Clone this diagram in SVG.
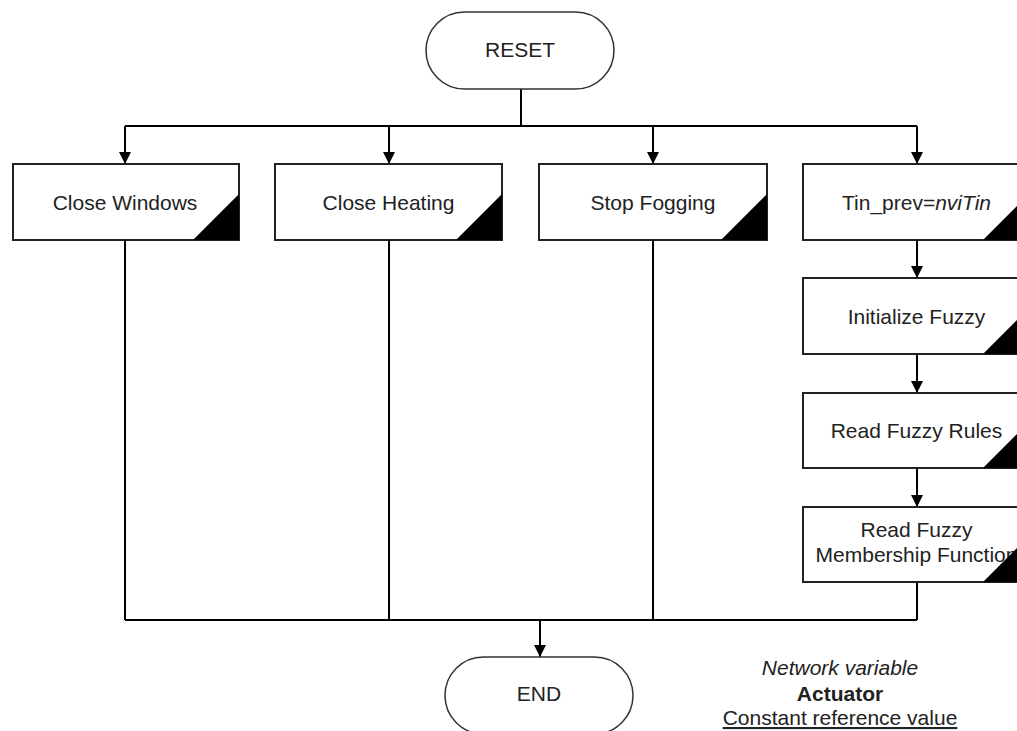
<svg xmlns="http://www.w3.org/2000/svg" width="1017" height="731" viewBox="0 0 1017 731">
<style>
.box{fill:#fff;stroke:#222;stroke-width:2}
.term{fill:#fff;stroke:#333;stroke-width:1.5}
.tri{fill:#000}
.t{font-family:"Liberation Sans",Arial,sans-serif;font-size:21px;fill:#222;text-anchor:middle}
.c{fill:none;stroke:#000;stroke-width:2}
</style>
<defs>
<marker id="ad" markerUnits="userSpaceOnUse" markerWidth="14" markerHeight="14" viewBox="0 0 14 14" refX="7" refY="13" orient="0">
<path d="M1,1 L13,1 L7,13 Z" fill="#000"/>
</marker>
</defs>
<rect width="1017" height="731" fill="#fff"/>
<g id="connectors">
<path class="c" d="M521,89 V126 M125,126 H917"/>
<path class="c" d="M125,126 V164" marker-end="url(#ad)"/>
<path class="c" d="M389,126 V164" marker-end="url(#ad)"/>
<path class="c" d="M653,126 V164" marker-end="url(#ad)"/>
<path class="c" d="M917,126 V164" marker-end="url(#ad)"/>
<path class="c" d="M917,240 V278" marker-end="url(#ad)"/>
<path class="c" d="M917,354 V393" marker-end="url(#ad)"/>
<path class="c" d="M917,468 V507" marker-end="url(#ad)"/>
<path class="c" d="M125,240 V620 M389,240 V620 M653,240 V620 M917,582 V620 M125,620 H917"/>
<path class="c" d="M540,620 V657" marker-end="url(#ad)"/>
</g>
<g id="reset">
<rect class="term" x="426" y="12" width="188" height="77" rx="38.5" ry="38.5"/>
<text class="t" x="520" y="57">RESET</text>
</g>
<g id="close-windows">
<rect class="box" x="13" y="164" width="226" height="76"/>
<text class="t" x="125" y="210">Close Windows</text>
<path class="tri" d="M193,240 L239,194 L239,240 Z"/>
</g>
<g id="close-heating">
<rect class="box" x="275" y="164" width="227" height="76"/>
<text class="t" x="388.5" y="210">Close Heating</text>
<path class="tri" d="M456,240 L502,194 L502,240 Z"/>
</g>
<g id="stop-fogging">
<rect class="box" x="539" y="164" width="228" height="76"/>
<text class="t" x="653" y="210">Stop Fogging</text>
<path class="tri" d="M721,240 L767,194 L767,240 Z"/>
</g>
<g id="tin-prev">
<rect class="box" x="803" y="164" width="227" height="76"/>
<text class="t" x="916.5" y="210">Tin_prev=<tspan font-style="italic">nviTin</tspan></text>
<path class="tri" d="M983,240 L1029,194 L1029,240 Z"/>
</g>
<g id="init-fuzzy">
<rect class="box" x="803" y="278" width="227" height="76"/>
<text class="t" x="916.5" y="324">Initialize Fuzzy</text>
<path class="tri" d="M983,354 L1029,308 L1029,354 Z"/>
</g>
<g id="read-rules">
<rect class="box" x="803" y="393" width="227" height="75"/>
<text class="t" x="916.5" y="438">Read Fuzzy Rules</text>
<path class="tri" d="M983,468 L1029,422 L1029,468 Z"/>
</g>
<g id="read-membership">
<rect class="box" x="803" y="507" width="227" height="75"/>
<text class="t" x="916.5" y="537">Read Fuzzy</text>
<text class="t" x="916.5" y="562">Membership Function</text>
<path class="tri" d="M983,582 L1029,536 L1029,582 Z"/>
</g>
<g id="end">
<rect class="term" x="445" y="657" width="188" height="77" rx="38.5" ry="38.5"/>
<text class="t" x="539" y="701">END</text>
</g>
<g id="legend">
<text class="t" x="840" y="675" font-style="italic">Network variable</text>
<text class="t" x="840" y="701" font-weight="bold">Actuator</text>
<text class="t" x="840" y="725" text-decoration="underline">Constant reference value</text>
</g>
</svg>
